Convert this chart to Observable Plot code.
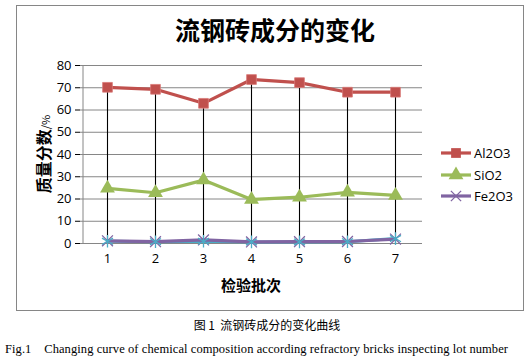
<!DOCTYPE html>
<html><head><meta charset="utf-8">
<script src="https://cdn.jsdelivr.net/npm/d3@7"></script>
<script src="https://cdn.jsdelivr.net/npm/@observablehq/plot@0.6"></script>
<style>
body{margin:0;background:#fff;}
#wrap{position:relative;width:530px;height:359px;}
</style>
</head><body><div id="wrap"></div>
<script>
const batches = [1,2,3,4,5,6,7];
const al2o3 = [70.2, 69.3, 63, 73.7, 72.3, 68, 68];
const sio2 = [24.8, 22.8, 28.5, 19.8, 20.8, 23, 21.6];
const fe2o3 = [1.2, 0.8, 1.6, 0.7, 0.8, 0.9, 2.0];
const hidden = [1.0, 0.8, 1.0, 0.7, 0.7, 0.8, 2.2];
const yTicks = [0,10,20,30,40,50,60,70,80];
const seriesNames = ["Al2O3","SiO2","Fe2O3"];
const seriesColors = ["#c0504d","#9bbb59","#8064a2"];
const hiddenColor = "#4bacc6";

const rows = [];
[al2o3, sio2, fe2o3].forEach((arr,k)=>arr.forEach((v,i)=>rows.push({s:seriesNames[k],x:String(batches[i]),y:v})));
const hrows = hidden.map((v,i)=>({x:String(batches[i]),y:v}));
const drops = al2o3.map((v,i)=>({x:String(batches[i]),y:v}));

const fontTick = "'Open Sans', 'Liberation Sans', sans-serif";

const plot = Plot.plot({
  width:530, height:359,
  marginLeft:80, marginRight:108, marginTop:65, marginBottom:116,
  style:{fontFamily:fontTick, fontSize:"13px", color:"#000", background:"transparent", overflow:"visible"},
  x:{type:"band", domain:batches.map(String), padding:0, label:null, tickSize:0, tickPadding:10},
  y:{domain:[0,80], ticks:yTicks, label:null, tickSize:5, tickPadding:4},
  color:{domain:seriesNames, range:seriesColors},
  marks:[
    Plot.gridY(yTicks,{stroke:"#868686", strokeOpacity:1, strokeWidth:1}),
    Plot.ruleX(drops,{x:"x", y1:0, y2:"y", stroke:"#000", strokeWidth:1.1}),
    Plot.line(hrows,{x:"x", y:"y", stroke:hiddenColor, strokeWidth:3}),
    Plot.line(rows,{x:"x", y:"y", z:"s", stroke:"s", strokeWidth:3.2}),
    Plot.dot(rows.filter(d=>d.s==="Al2O3"),{x:"x", y:"y", symbol:"square", r:5.5, fill:"#c0504d", stroke:"#d97a77", strokeWidth:0.8}),
    Plot.dot(rows.filter(d=>d.s==="SiO2"),{x:"x", y:"y", symbol:"triangle", r:5.5, fill:"#9bbb59"}),
    Plot.dot(rows.filter(d=>d.s==="Fe2O3"),{x:"x", y:"y", symbol:"times", r:5, stroke:"#8064a2", strokeWidth:1.3}),
    Plot.dot(hrows,{x:"x", y:"y", symbol:"asterisk", r:6, stroke:hiddenColor, strokeWidth:1.3}),
    Plot.ruleX([batches[0]+""],{dx:-24.5, stroke:"#868686"})
  ]
});
document.getElementById("wrap").appendChild(plot);

const svg = d3.select(plot);
// outer chart border
svg.insert("rect",":first-child").attr("x",16.5).attr("y",5.5).attr("width",507).attr("height",305)
  .attr("fill","#fff").attr("stroke","#868686").attr("stroke-width",1);
// title
svg.append("text").attr("x",275).attr("y",40).attr("text-anchor","middle")
  .attr("font-family","'Noto Sans CJK SC', sans-serif").attr("font-weight","bold").attr("font-size",25)
  .attr("fill","#000").text("流钢砖成分的变化");
// y title
const yt = svg.append("text").attr("transform","translate(50,154) rotate(-90)").attr("text-anchor","middle")
  .attr("font-family","'Noto Sans CJK SC', sans-serif").attr("fill","#000");
yt.append("tspan").attr("font-weight","bold").attr("font-size",16).text("质量分数");
yt.append("tspan").attr("font-size",11).text("/%");
// x title
svg.append("text").attr("x",251).attr("y",291).attr("text-anchor","middle")
  .attr("font-family","'Noto Sans CJK SC', sans-serif").attr("font-weight","bold").attr("font-size",15)
  .attr("fill","#000").text("检验批次");
// legend
const leg = svg.append("g");
const legY = [153,175,196];
const syms = [d3.symbolSquare, d3.symbolTriangle, d3.symbolTimes];
seriesNames.forEach((n,k)=>{
  const y = legY[k];
  leg.append("line").attr("x1",441).attr("x2",471).attr("y1",y).attr("y2",y).attr("stroke",seriesColors[k]).attr("stroke-width",3.2);
  const p = leg.append("path").attr("transform",`translate(456,${y})`).attr("d",d3.symbol(syms[k], k===2?70:95)());
  if(k===2) p.attr("fill","none").attr("stroke",seriesColors[k]).attr("stroke-width",1.3);
  else p.attr("fill",seriesColors[k]);
  leg.append("text").attr("x",474).attr("y",y+5).attr("text-anchor","start").attr("font-family",fontTick).attr("font-size",13).attr("fill","#000").text(n);
});
// captions
svg.append("text").attr("x",267).attr("y",330).attr("text-anchor","middle")
  .attr("font-family","'Noto Sans CJK SC', sans-serif").attr("font-size",12).attr("fill","#000").text("图 1  流钢砖成分的变化曲线");
svg.append("text").attr("x",5).attr("y",353).attr("text-anchor","start")
  .attr("font-family","'Liberation Serif', serif").attr("font-size",12.5).attr("fill","#000")
  .attr("textLength",503).attr("lengthAdjust","spacing")
  .text("Fig.1\u00a0\u00a0\u00a0\u00a0Changing curve of chemical composition according refractory bricks inspecting lot number");
</script>
</body></html>
